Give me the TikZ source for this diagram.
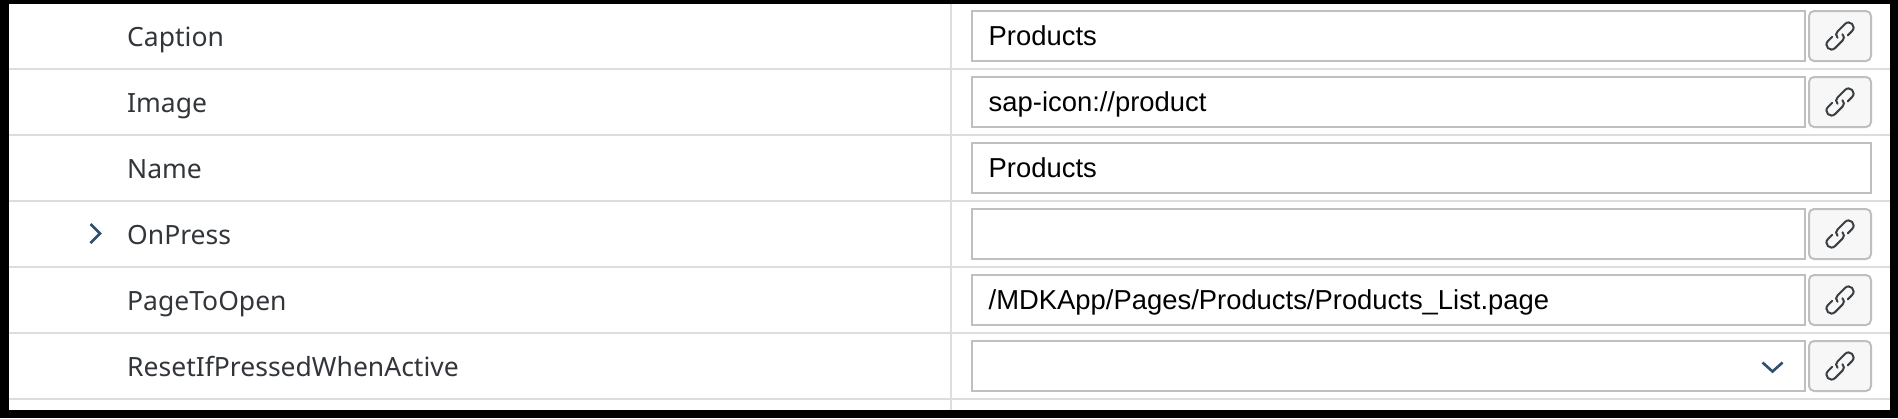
\documentclass[tikz,border=0pt]{standalone}
\usepackage{fontspec}
\setmainfont{Liberation Sans}
\newfontfamily\labelfont{Noto Sans}
\definecolor{rowline}{HTML}{DDDDDD}
\definecolor{boxline}{HTML}{BFBFBF}
\definecolor{btnfill}{HTML}{F7F7F7}
\definecolor{chev}{HTML}{2F4F6F}
\definecolor{labeltext}{HTML}{32363A}
\definecolor{icon}{HTML}{3A3F44}
\tikzset{
  x=1pt,y=-1pt,
  rowrule/.style={draw=rowline,line width=2pt},
  propname/.style={anchor=base west,inner sep=0pt,text=labeltext,font=\labelfont\fontsize{26.5}{30}\selectfont},
  valuebox/.style={draw=boxline,fill=white,line width=2pt,anchor=north west,minimum height=50pt,inner sep=0pt},
  valuetext/.style={anchor=base west,inner sep=0pt,text=black,font=\fontsize{27.4}{32}\selectfont},
  linkbtn/.style={draw=boxline,fill=btnfill,line width=2pt,rounded corners=5pt,anchor=north west,minimum width=62pt,minimum height=50pt,inner sep=0pt},
  chevron/.style={draw=chev,line width=2.6pt,fill=none},
  linkpath/.style={draw=icon,line width=2pt,line cap=round},
}
\newcommand{\linkicon}[1]{%
  \begin{scope}[shift={(#1)},rotate=45]
    \draw[linkpath] (-3,-0.5) .. controls (-3,-3.5) and (-1,-5) .. (1.5,-5) -- (12,-5) .. controls (18.7,-5) and (18.7,5) .. (12,5) -- (6,5);
    \draw[linkpath] (3,0.5) .. controls (3,3.5) and (1,5) .. (-1.5,5) -- (-12,5) .. controls (-18.7,5) and (-18.7,-5) .. (-12,-5) -- (-6,-5);
  \end{scope}}
\begin{document}
\begin{tikzpicture}
\useasboundingbox (0,0) rectangle (1898,418);
\fill[black] (0,0) rectangle (1898,418);
\fill[white] (9,4) rectangle (1890,410);
\foreach \y in {69,135,201,267,333,399}
  \draw[rowrule] (9,\y) -- (1890,\y);
\draw[rowrule] (951,4) -- (951,410);

\node[propname] (l1) at (127,46) {Caption};
\node[propname] (l2) at (127,112) {Image};
\node[propname] (l3) at (127,178) {Name};
\node[propname] (l4) at (127,244) {OnPress};
\node[propname] (l5) at (127,310) {PageToOpen};
\node[propname] (l6) at (127,376) {ResetIfPressedWhenActive};

\node[valuebox,minimum width=833pt] (b1) at (970.5,10) {};
\node[valuebox,minimum width=833pt] (b2) at (970.5,76) {};
\node[valuebox,minimum width=899pt] (b3) at (970.5,142) {};
\node[valuebox,minimum width=833pt] (b4) at (970.5,208) {};
\node[valuebox,minimum width=833pt] (b5) at (970.5,274) {};
\node[valuebox,minimum width=833pt] (b6) at (970.5,340) {};

\node[valuetext] (v1) at (988.5,45) {Products};
\node[valuetext] (v2) at (988.5,111) {sap-icon://product};
\node[valuetext] (v3) at (988.5,177) {Products};
\node[valuetext] (v5) at (988.5,309) {/MDKApp/Pages/Products/Products\_List.page};

\foreach \n/\y in {1/10,2/76,4/208,5/274,6/340}{
  \node[linkbtn] (k\n) at (1808,\y) {};
  \linkicon{k\n.center}
}
\draw[chevron] (90.5,224) -- (100,233.5) -- (90.5,243);
\draw[chevron] (1762.5,362.5) -- (1772.5,371.5) -- (1782.5,362.5);
\end{tikzpicture}
\end{document}
